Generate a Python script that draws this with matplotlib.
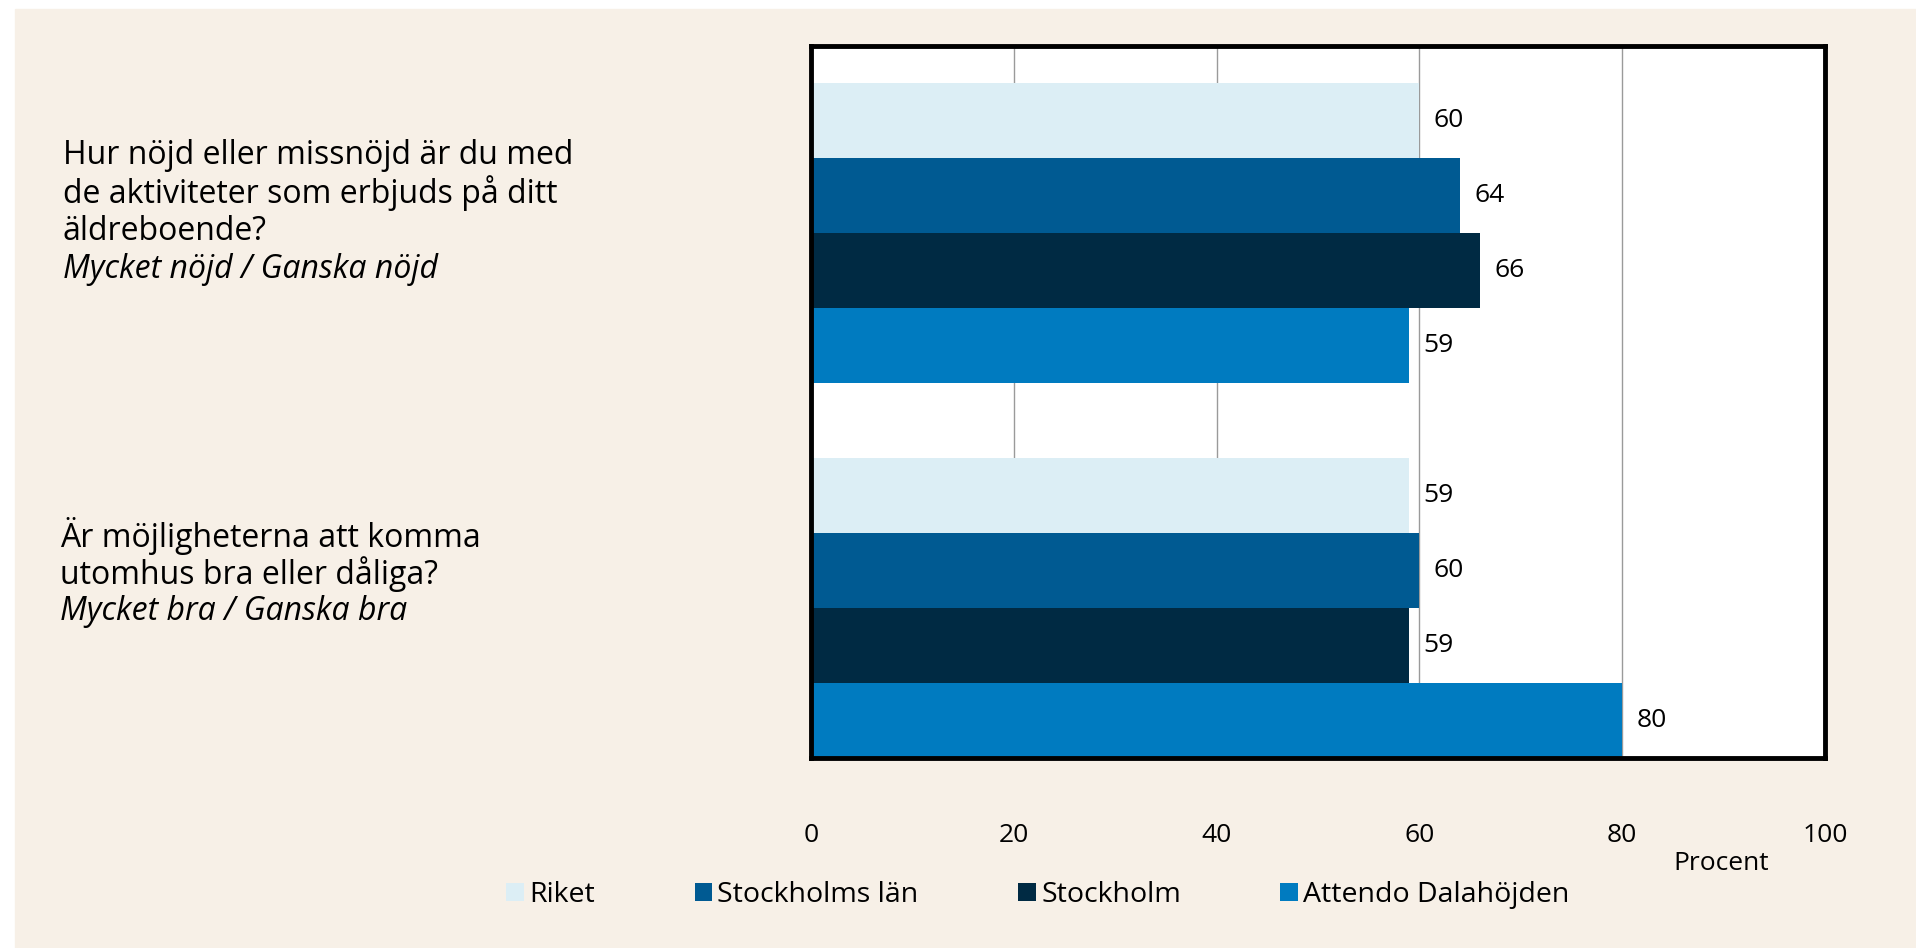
import matplotlib
matplotlib.use("Agg")
import matplotlib.pyplot as plt
from matplotlib.patches import Patch, Rectangle

plt.rcParams['font.family'] = ['Open Sans', 'DejaVu Sans']

series = ["Riket", "Stockholms län", "Stockholm", "Attendo Dalahöjden"]
colors = ["#DCEEF5", "#005A92", "#002A43", "#007BC0"]
q1_values = [60, 64, 66, 59]
q2_values = [59, 60, 59, 80]
questions = [
    (["Hur nöjd eller missnöjd är du med", "de aktiviteter som erbjuds på ditt", "äldreboende?"],
     "Mycket nöjd / Ganska nöjd"),
    (["Är möjligheterna att komma", "utomhus bra eller dåliga?"],
     "Mycket bra / Ganska bra"),
]
xticks = [0, 20, 40, 60, 80, 100]
xlabel = "Procent"

W, H = 1916, 948
fig = plt.figure(figsize=(W / 100, H / 100), dpi=100, facecolor="white")
cream = "#F7F0E7"
fig.patches.append(Rectangle((15 / W, 0), 1 - 15 / W, 1 - 8.5 / H,
                             transform=fig.transFigure, color=cream, zorder=-10))

ax = fig.add_axes([811 / W, 1 - 758 / H, (1825 - 811) / W, (758 - 46) / H])
ax.set_facecolor("white")

groups = [q1_values, q2_values]
for g, vals in enumerate(groups):
    for i, v in enumerate(vals):
        y = g * 5 + 1 + i
        ax.barh(y, v, height=1.0, color=colors[i], zorder=2)
        ax.text(v + 1.4, y, f"{v}", va="center", ha="left", fontsize=19, color="black", zorder=3)

ax.set_ylim(9.5, 0)
ax.set_xlim(0, 100)
ax.set_xticks(xticks)
ax.set_xticklabels([str(t) for t in xticks], fontsize=19)
ax.tick_params(axis="x", length=0, pad=47)
ax.set_yticks([])
ax.grid(axis="x", color="#9A9A9A", linewidth=1.0, zorder=1)
for s in ax.spines.values():
    s.set_linewidth(3.5)
    s.set_color("black")

fig.text(1721 / W, 1 - 864 / H, xlabel, fontsize=19, ha="center", va="center")

# Question labels
line_h = 38
starts = [(63, 155), (60, 536)]
for (x0, y0), (lines, sub) in zip(starts, questions):
    for k, ln in enumerate(lines):
        fig.text(x0 / W, 1 - (y0 + k * line_h) / H, ln, fontsize=23, ha="left", va="center")
    fig.text(x0 / W, 1 - (y0 + len(lines) * line_h) / H, sub, fontsize=23,
             style="italic", ha="left", va="center")

handles = [Patch(facecolor=c, edgecolor="none") for c in colors]
fig.legend(handles, series, loc="center", bbox_to_anchor=(1038 / W, 1 - 895 / H),
           ncol=4, frameon=False, fontsize=20.5, handlelength=0.62, handleheight=0.62,
           handletextpad=0.18, columnspacing=3.5, borderaxespad=0)

fig.savefig("out.png", dpi=100, facecolor=fig.get_facecolor())
